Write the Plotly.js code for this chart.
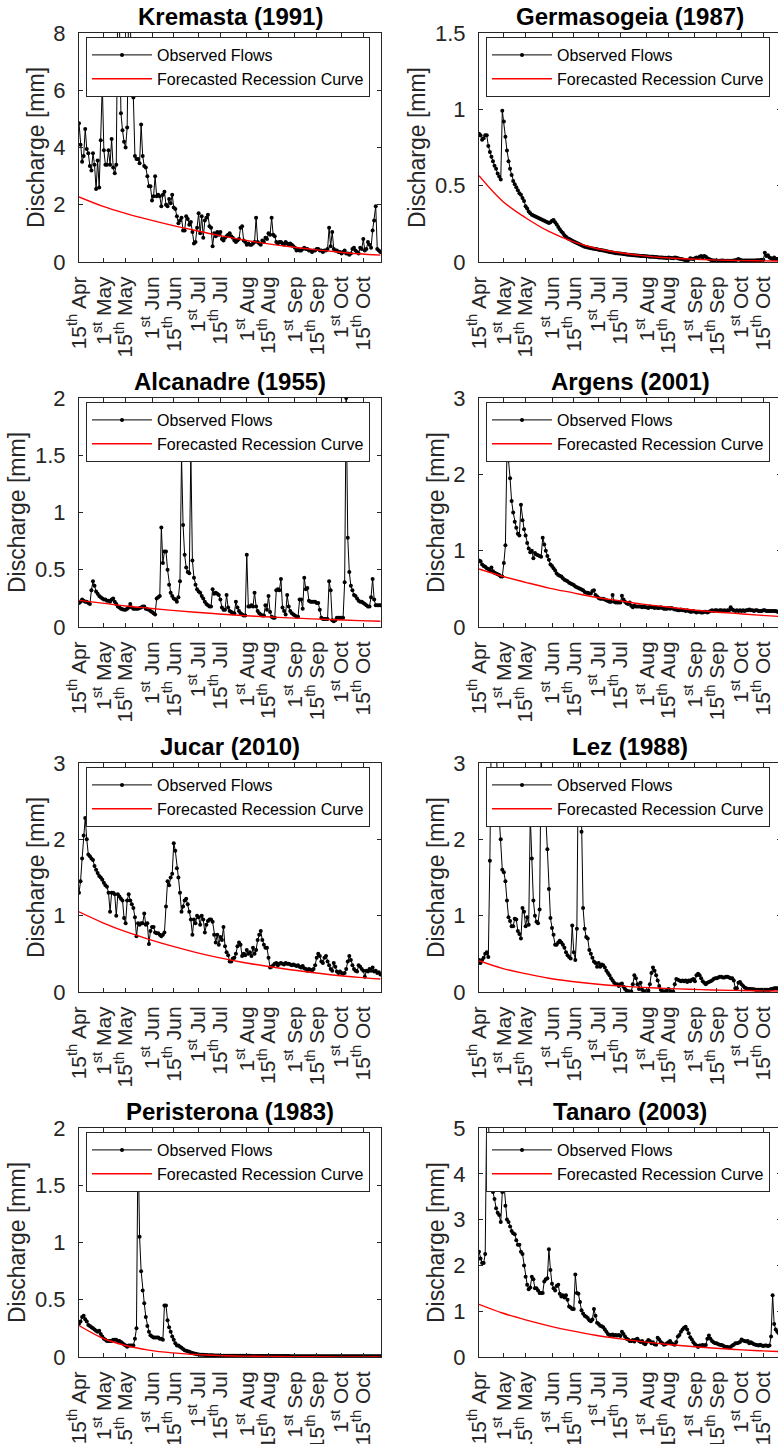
<!DOCTYPE html>
<html>
<head>
<meta charset="utf-8">
<script src="https://cdn.plot.ly/plotly-3.0.1.min.js"></script>
<style>html,body{margin:0;padding:0;overflow:hidden;background:#fff}</style>
</head>
<body>
<div id="chart" style="width:790px;height:1444px"></div>
<script>
// ---- x axis: days since 15 April ----
const tickDays = [0,16,30,47,61,77,91,108,122,139,153,169,183];
const tickLabels = ['15<sup>th</sup> Apr','1<sup>st</sup> May','15<sup>th</sup> May','1<sup>st</sup> Jun','15<sup>th</sup> Jun','1<sup>st</sup> Jul','15<sup>th</sup> Jul','1<sup>st</sup> Aug','15<sup>th</sup> Aug','1<sup>st</sup> Sep','15<sup>th</sup> Sep','1<sup>st</sup> Oct','15<sup>th</sup> Oct'];
const recDays = [0,15,30,45,60,75,90,105,120,135,150,165,180,194];

const titles = ['Kremasta (1991)','Germasogeia (1987)','Alcanadre (1955)','Argens (2001)','Jucar (2010)','Lez (1988)','Peristerona (1983)','Tanaro (2003)'];
const yMax = [8,1.5,2,3,3,3,2,5];
const yStep = [2,0.5,0.5,1,1,1,0.5,1];

// ---- observed daily flows (from 15 Apr) ----
const kremastaObs = [
4.85,4.1,3.5,3.7,4.65,3.95,3.8,3.35,3.2,3.8,
3.4,2.55,3.55,2.6,4.25,6.2,3.9,3.4,3.4,3.9,
3.4,4.3,3.3,3.1,3.4,9.5,8.5,5.2,4.6,4.2,
4.0,4.7,9.0,8.5,6.2,5.75,3.7,3.6,3.6,3.45,
4.8,3.7,3.35,3.3,3.0,2.65,2.65,2.15,2.3,3.0,
2.3,2.35,2.3,1.95,2.35,2.45,2.0,1.95,2.2,2.05,
2.35,1.9,1.85,1.6,1.35,1.45,1.55,1.1,1.1,1.6,
1.5,1.3,1.4,1.05,0.65,0.7,1.2,1.7,1.0,1.6,
0.85,1.45,1.55,1.65,1.25,1.2,0.55,1.0,0.9,1.05,
0.95,1.05,0.8,0.75,0.85,0.9,0.95,1.0,0.9,0.85,
0.75,0.7,0.75,0.8,1.2,1.25,0.75,0.7,0.6,0.65,
0.6,0.6,0.65,0.7,1.55,0.7,0.65,0.6,0.75,0.7,
0.85,0.8,1.0,0.95,1.55,0.95,0.9,0.7,0.65,0.7,
0.7,0.65,0.6,0.7,0.65,0.6,0.65,0.6,0.55,0.5,
0.4,0.45,0.4,0.4,0.45,0.5,0.45,0.45,0.4,0.4,
0.35,0.4,0.4,0.45,0.45,0.4,0.4,0.35,0.4,0.4,
0.45,1.2,0.55,1.05,0.45,0.4,0.4,0.35,0.35,0.3,
0.35,0.4,0.3,0.3,0.25,0.3,0.45,0.5,0.4,0.35,
0.3,0.5,0.45,0.8,0.4,0.45,0.7,0.6,0.5,1.1,
1.45,1.95,0.45,0.4,0.35];
const germasogeiaObs = [
0.84,0.83,0.8,0.81,0.83,0.83,0.76,0.72,0.69,0.66,
0.63,0.61,0.58,0.56,0.54,0.99,0.92,0.82,0.73,0.66,
0.61,0.57,0.53,0.51,0.49,0.47,0.45,0.44,0.42,0.4,
0.365,0.35,0.33,0.32,0.31,0.305,0.3,0.295,0.29,0.285,
0.28,0.275,0.27,0.265,0.26,0.255,0.26,0.27,0.275,0.26,
0.245,0.23,0.215,0.2,0.19,0.175,0.165,0.155,0.15,0.145,
0.14,0.135,0.13,0.125,0.12,0.115,0.11,0.105,0.1,0.098,
0.095,0.093,0.09,0.088,0.086,0.085,0.083,0.08,0.079,0.077,
0.075,0.073,0.07,0.068,0.066,0.064,0.062,0.06,0.058,0.057,
0.056,0.055,0.054,0.052,0.05,0.049,0.048,0.047,0.046,0.045,
0.044,0.043,0.042,0.041,0.04,0.04,0.039,0.038,0.037,0.036,
0.035,0.035,0.034,0.033,0.032,0.031,0.03,0.03,0.029,0.028,
0.028,0.027,0.03,0.028,0.026,0.025,0.03,0.028,0.025,0.022,
0.02,0.018,0.015,0.012,0.01,0.015,0.025,0.022,0.02,0.025,
0.03,0.028,0.035,0.04,0.03,0.04,0.035,0.025,0.02,0.015,
0.012,0.01,0.01,0.01,0.009,0.009,0.01,0.01,0.009,0.009,
0.008,0.008,0.009,0.009,0.01,0.012,0.015,0.02,0.015,0.01,
0.01,0.01,0.01,0.01,0.01,0.01,0.01,0.01,0.01,0.012,
0.012,0.012,0.015,0.015,0.06,0.04,0.045,0.03,0.025,0.02,
0.03,0.02,0.02,0.015,0.015];
const alcanadreObs = [
0.21,0.22,0.24,0.23,0.22,0.22,0.21,0.2,0.32,0.4,
0.36,0.31,0.29,0.27,0.26,0.25,0.24,0.24,0.23,0.23,
0.22,0.24,0.25,0.22,0.2,0.18,0.17,0.16,0.155,0.15,
0.15,0.16,0.17,0.2,0.17,0.16,0.16,0.16,0.16,0.165,
0.17,0.18,0.18,0.16,0.155,0.15,0.14,0.13,0.12,0.11,
0.25,0.26,0.27,0.87,0.56,0.66,0.66,0.5,0.37,0.3,
0.27,0.25,0.24,0.22,0.26,0.4,1.49,0.89,0.63,0.52,
0.48,0.47,1.52,0.58,0.43,0.37,0.33,0.31,0.3,0.27,
0.25,0.22,0.2,0.19,0.18,0.18,0.33,0.29,0.3,0.29,
0.28,0.24,0.17,0.15,0.15,0.28,0.17,0.14,0.13,0.12,
0.12,0.22,0.17,0.14,0.12,0.11,0.1,0.1,0.63,0.18,
0.18,0.19,0.18,0.3,0.18,0.14,0.12,0.11,0.1,0.1,
0.19,0.15,0.27,0.13,0.09,0.08,0.08,0.32,0.33,0.32,
0.42,0.17,0.14,0.11,0.28,0.18,0.14,0.12,0.11,0.1,
0.09,0.09,0.24,0.24,0.16,0.43,0.33,0.34,0.23,0.22,
0.22,0.22,0.22,0.21,0.21,0.15,0.08,0.07,0.07,0.07,
0.07,0.4,0.32,0.06,0.05,0.06,0.08,0.08,0.08,0.08,
0.08,0.39,2.0,0.78,0.48,0.36,0.32,0.28,0.27,0.25,
0.23,0.22,0.22,0.21,0.2,0.19,0.18,0.18,0.26,0.42,
0.24,0.19,0.19,0.19,0.19];
const argensObs = [
0.87,0.86,0.82,0.8,0.79,0.77,0.76,0.74,0.78,0.73,
0.71,0.7,0.69,0.68,0.66,0.66,0.84,1.07,2.32,2.18,
1.95,1.65,1.5,1.38,1.3,1.22,1.2,1.6,1.4,1.28,
1.2,1.1,1.03,0.98,1.0,0.9,0.97,0.95,0.94,0.93,
0.92,1.17,1.08,1.0,0.93,0.88,0.82,0.8,0.77,0.74,
0.7,0.68,0.67,0.66,0.64,0.62,0.61,0.6,0.58,0.57,
0.56,0.55,0.53,0.52,0.51,0.5,0.49,0.48,0.46,0.45,
0.45,0.44,0.44,0.47,0.48,0.42,0.4,0.38,0.37,0.37,
0.37,0.36,0.35,0.34,0.33,0.33,0.42,0.33,0.32,0.32,
0.32,0.32,0.41,0.36,0.33,0.31,0.3,0.32,0.28,0.26,
0.28,0.27,0.27,0.27,0.27,0.26,0.27,0.26,0.26,0.25,
0.27,0.26,0.26,0.25,0.26,0.25,0.25,0.26,0.25,0.24,
0.24,0.24,0.25,0.24,0.25,0.24,0.23,0.23,0.22,0.22,
0.23,0.22,0.22,0.21,0.22,0.21,0.2,0.2,0.21,0.2,
0.19,0.2,0.2,0.19,0.19,0.2,0.2,0.19,0.2,0.21,
0.22,0.21,0.22,0.22,0.21,0.22,0.22,0.21,0.22,0.21,
0.22,0.22,0.26,0.23,0.22,0.21,0.22,0.21,0.22,0.21,
0.22,0.21,0.22,0.22,0.23,0.22,0.22,0.21,0.22,0.22,
0.21,0.21,0.21,0.22,0.22,0.21,0.21,0.21,0.21,0.21,
0.21,0.21,0.2,0.2,0.2];
const jucarObs = [
1.3,1.45,1.75,2.05,2.28,2.0,1.8,1.78,1.75,1.73,
1.65,1.6,1.56,1.52,1.5,1.47,1.43,1.4,1.38,1.3,
1.05,1.3,1.3,1.28,1.0,1.28,1.25,1.22,1.2,0.97,
0.9,1.2,1.28,1.2,1.15,1.1,0.98,0.73,0.9,0.88,
0.9,0.9,1.03,0.88,0.9,0.63,0.8,0.85,0.85,0.78,
0.77,0.77,0.75,0.73,0.75,0.78,1.12,1.45,1.4,1.5,
1.55,1.95,1.85,1.62,1.5,1.3,1.05,1.12,1.2,1.22,
1.15,1.05,0.95,0.75,0.95,0.9,1.0,0.98,0.88,1.0,
0.95,0.78,0.88,0.93,0.95,0.95,0.92,0.75,0.65,0.75,
0.62,0.72,0.68,0.85,0.6,0.52,0.48,0.4,0.4,0.44,
0.45,0.5,0.6,0.65,0.62,0.47,0.5,0.48,0.55,0.5,
0.52,0.47,0.58,0.5,0.55,0.68,0.75,0.8,0.68,0.62,
0.58,0.58,0.45,0.32,0.33,0.35,0.37,0.38,0.35,0.37,
0.38,0.37,0.36,0.38,0.37,0.37,0.36,0.35,0.36,0.35,
0.34,0.35,0.33,0.32,0.34,0.31,0.3,0.28,0.3,0.29,
0.28,0.3,0.35,0.45,0.5,0.47,0.4,0.38,0.45,0.47,
0.4,0.35,0.3,0.28,0.38,0.33,0.27,0.25,0.27,0.25,
0.24,0.25,0.3,0.4,0.47,0.42,0.35,0.3,0.28,0.27,
0.35,0.33,0.3,0.28,0.2,0.28,0.27,0.3,0.28,0.32,
0.27,0.28,0.25,0.26,0.23];
const lezObs = [
0.42,0.38,0.42,0.45,0.5,0.52,0.46,1.72,3.6,3.8,
3.5,3.2,2.8,2.3,2.0,1.6,1.57,1.45,1.2,0.98,
0.93,0.86,0.86,0.96,0.95,0.8,0.76,0.7,1.1,1.05,
0.86,0.98,0.88,2.3,1.75,1.2,1.0,0.92,0.9,1.08,
3.1,2.25,2.26,2.3,1.87,1.35,0.97,0.84,0.75,0.62,
0.62,0.65,0.67,0.65,0.62,0.58,0.52,0.48,0.46,0.44,
0.87,0.52,0.42,0.83,3.2,3.4,2.1,1.1,0.83,0.72,
0.7,0.55,0.5,0.45,0.4,0.38,0.33,0.38,0.33,0.36,
0.35,0.32,0.28,0.25,0.22,0.18,0.15,0.12,0.1,0.1,
0.08,0.1,0.11,0.07,0.04,0.02,0.01,0.005,0.005,0.1,
0.22,0.18,0.1,0.04,0.12,0.03,0.01,0.01,0.01,0.02,
0.1,0.25,0.32,0.28,0.22,0.15,0.08,0.03,0.01,0.01,
0.005,0.02,0.04,0.01,0.005,0.005,0.1,0.17,0.16,0.15,
0.14,0.15,0.14,0.15,0.13,0.15,0.14,0.16,0.17,0.14,
0.22,0.24,0.22,0.18,0.14,0.12,0.1,0.12,0.13,0.14,
0.15,0.17,0.18,0.18,0.19,0.2,0.2,0.19,0.19,0.2,
0.2,0.19,0.18,0.18,0.15,0.05,0.05,0.12,0.13,0.1,
0.08,0.06,0.05,0.04,0.04,0.04,0.035,0.035,0.03,0.03,
0.03,0.03,0.03,0.03,0.03,0.03,0.03,0.03,0.04,0.04,
0.05,0.05,0.05,0.04,0.04];
const peristeronaObs = [
0.29,0.31,0.35,0.36,0.33,0.31,0.28,0.27,0.26,0.25,
0.24,0.23,0.22,0.23,0.2,0.18,0.16,0.15,0.14,0.14,
0.14,0.14,0.15,0.15,0.15,0.14,0.14,0.13,0.12,0.11,
0.1,0.09,0.1,0.1,0.1,0.1,0.16,0.25,1.9,1.05,
0.75,0.58,0.47,0.35,0.27,0.22,0.19,0.18,0.17,0.17,
0.17,0.17,0.16,0.16,0.15,0.45,0.45,0.32,0.26,0.22,
0.18,0.15,0.12,0.1,0.1,0.09,0.08,0.07,0.06,0.055,
0.05,0.045,0.04,0.035,0.03,0.028,0.025,0.022,0.02,0.02,
0.019,0.018,0.017,0.016,0.016,0.015,0.015,0.014,0.014,0.013,
0.013,0.012,0.012,0.012,0.012,0.012,0.011,0.011,0.011,0.011,
0.011,0.01,0.01,0.01,0.01,0.01,0.01,0.01,0.01,0.01,
0.01,0.009,0.009,0.009,0.009,0.009,0.009,0.009,0.009,0.009,
0.009,0.008,0.008,0.008,0.008,0.008,0.008,0.008,0.008,0.008,
0.008,0.008,0.008,0.008,0.008,0.008,0.007,0.007,0.007,0.007,
0.007,0.007,0.007,0.007,0.007,0.007,0.007,0.007,0.007,0.007,
0.007,0.007,0.007,0.007,0.007,0.007,0.006,0.006,0.006,0.006,
0.006,0.006,0.006,0.006,0.006,0.006,0.006,0.006,0.006,0.006,
0.006,0.006,0.006,0.006,0.006,0.006,0.006,0.006,0.006,0.006,
0.006,0.006,0.006,0.006,0.006,0.006,0.006,0.006,0.006,0.006,
0.006,0.006,0.006,0.006,0.006];
const tanaroObs = [
2.3,2.15,2.05,2.05,2.25,5.5,5.2,4.4,3.9,3.6,
3.45,3.25,3.15,3.1,2.95,3.6,3.8,3.3,3.0,2.95,
2.85,2.75,2.7,2.68,2.55,2.45,2.45,2.3,2.25,2.0,
1.75,1.58,1.48,1.52,1.75,1.7,1.5,1.5,1.45,1.4,
1.4,1.4,1.65,1.7,1.72,2.35,1.9,1.6,1.5,1.45,
1.55,1.58,1.38,1.32,1.35,1.3,1.35,1.25,1.1,1.08,
1.05,1.05,1.8,1.4,1.38,1.2,1.02,0.95,0.9,0.88,
0.85,0.8,0.78,0.82,1.05,0.9,0.75,0.72,0.68,0.67,
0.65,0.6,0.55,0.5,0.48,0.48,0.49,0.47,0.48,0.47,
0.48,0.46,0.55,0.5,0.45,0.4,0.38,0.35,0.35,0.37,
0.34,0.38,0.4,0.35,0.33,0.35,0.3,0.28,0.33,0.37,
0.35,0.3,0.32,0.28,0.27,0.42,0.38,0.33,0.3,0.27,
0.28,0.3,0.32,0.35,0.3,0.28,0.27,0.33,0.45,0.48,
0.55,0.6,0.64,0.66,0.6,0.52,0.43,0.38,0.32,0.28,
0.25,0.22,0.25,0.25,0.26,0.25,0.26,0.4,0.47,0.4,
0.35,0.32,0.3,0.3,0.28,0.27,0.26,0.25,0.23,0.22,
0.22,0.21,0.22,0.25,0.27,0.3,0.3,0.31,0.33,0.38,
0.36,0.35,0.34,0.35,0.3,0.32,0.3,0.28,0.27,0.26,
0.25,0.27,0.25,0.24,0.25,0.25,0.24,0.25,0.45,1.35,
0.72,0.6,0.55,0.52,0.5];

// ---- forecasted recession curves, read at recDays ----
const kremastaRec    = [2.27,1.95,1.70,1.48,1.28,1.10,0.93,0.78,0.65,0.54,0.44,0.36,0.29,0.24];
const germasogeiaRec = [0.565,0.40,0.29,0.20,0.135,0.09,0.062,0.042,0.028,0.02,0.014,0.01,0.008,0.006];
const alcanadreRec   = [0.233,0.208,0.184,0.164,0.145,0.129,0.114,0.101,0.090,0.080,0.071,0.063,0.056,0.050];
const argensRec      = [0.76,0.665,0.585,0.51,0.45,0.39,0.345,0.30,0.265,0.23,0.20,0.178,0.155,0.137];
const jucarRec       = [1.05,0.91,0.79,0.69,0.60,0.52,0.45,0.39,0.34,0.295,0.255,0.22,0.192,0.17];
const lezRec         = [0.41,0.31,0.24,0.18,0.138,0.105,0.08,0.061,0.047,0.036,0.027,0.021,0.016,0.012];
const peristeronaRec = [0.275,0.166,0.10,0.06,0.036,0.022,0.013,0.008,0.005,0.003,0.002,0.0012,0.0007,0.0005];
const tanaroRec      = [1.15,0.96,0.81,0.68,0.57,0.475,0.40,0.335,0.28,0.235,0.196,0.165,0.138,0.117];

const obsSeries = [kremastaObs,germasogeiaObs,alcanadreObs,argensObs,jucarObs,lezObs,peristeronaObs,tanaroObs];
const recSeries = [kremastaRec,germasogeiaRec,alcanadreRec,argensRec,jucarRec,lezRec,peristeronaRec,tanaroRec];

// ---- page geometry (pixels) ----
const W = 790, H = 1444;
const colLeft = [79, 479], plotW = 302;
const rowTop = [33, 398, 763, 1128], plotH = 229;
const FONT = 'Liberation Sans, Arial, Helvetica, sans-serif';
const AX = '#262626';

const traces = [];
const layout = {
  width: W, height: H, margin: {l:0, r:0, t:0, b:0},
  paper_bgcolor: '#fff', plot_bgcolor: '#fff',
  font: {family: FONT, color: AX},
  annotations: [], showlegend: true
};

for (let i = 0; i < 8; i++) {
  const col = i % 2, row = Math.floor(i / 2);
  const n = i === 0 ? '' : String(i + 1);
  const legKey = 'legend' + n;
  const L = colLeft[col], T = rowTop[row];

  traces.push({
    type: 'scatter', mode: 'lines+markers', name: 'Observed Flows',
    x0: 0, dx: 1, y: obsSeries[i], xaxis: 'x' + n, yaxis: 'y' + n,
    line: {color: '#000', width: 1}, marker: {color: '#000', size: 4},
    legend: legKey
  });
  traces.push({
    type: 'scatter', mode: 'lines', name: 'Forecasted Recession Curve',
    x: recDays, y: recSeries[i], xaxis: 'x' + n, yaxis: 'y' + n,
    line: {color: '#ff0000', width: 1.4, shape: 'spline', smoothing: 1},
    legend: legKey
  });

  layout['xaxis' + n] = {
    domain: [L / W, (L + plotW) / W], anchor: 'y' + n,
    range: [0, 194.4], tickmode: 'array', tickvals: tickDays, ticktext: tickLabels,
    tickangle: -90, ticks: 'inside', ticklen: 4, tickcolor: AX,
    showline: true, linecolor: AX, linewidth: 1, mirror: 'ticks',
    showgrid: false, zeroline: false, ticklabelstandoff: 5,
    tickfont: {family: FONT, size: 21, color: AX}
  };
  layout['yaxis' + n] = {
    domain: [1 - (T + plotH) / H, 1 - T / H], anchor: 'x' + n,
    range: [0, yMax[i]], tick0: 0, dtick: yStep[i],
    ticks: 'inside', ticklen: 4, tickcolor: AX,
    showline: true, linecolor: AX, linewidth: 1, mirror: 'ticks',
    showgrid: false, zeroline: false, ticklabelstandoff: 8,
    tickfont: {family: FONT, size: 22, color: AX},
    title: {text: 'Discharge [mm]', standoff: 2, font: {family: FONT, size: 23, color: AX}}
  };
  layout[legKey] = {
    x: (L + 7) / W, y: 1 - (T + 4) / H, xref: 'paper', yref: 'paper',
    xanchor: 'left', yanchor: 'top',
    bgcolor: '#fff', bordercolor: AX, borderwidth: 1,
    font: {family: FONT, size: 16, color: '#000'},
    itemwidth: 60, tracegroupgap: 0
  };
  layout.annotations.push({
    xref: 'paper', yref: 'paper', x: (L + plotW / 2) / W, y: 1 - T / H,
    xanchor: 'center', yanchor: 'bottom', yshift: 1, showarrow: false,
    text: '<b>' + titles[i] + '</b>',
    font: {family: FONT, size: 24, color: '#000'}
  });
}

Plotly.newPlot('chart', traces, layout, {displayModeBar: false, staticPlot: true});
</script>
</body>
</html>
